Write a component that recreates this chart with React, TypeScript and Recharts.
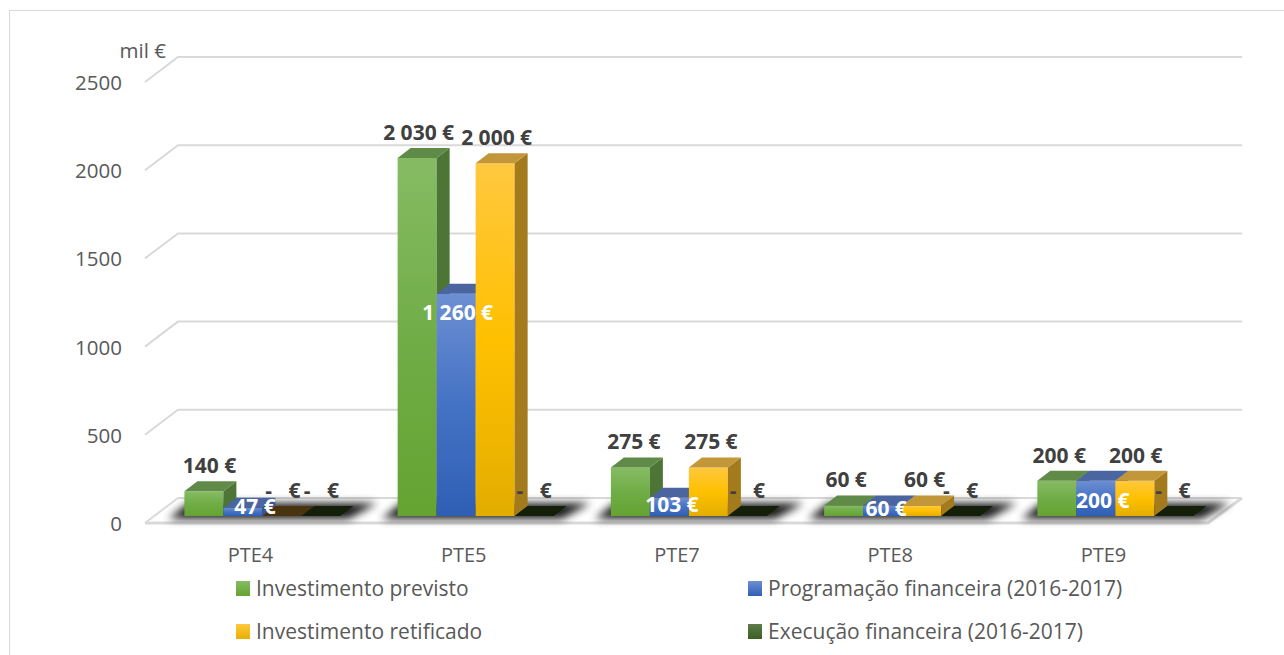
import React from "react";
import { ComposedChart, Bar, XAxis, YAxis, CartesianGrid, Legend, LabelList } from "recharts";

const categories = ["PTE4", "PTE5", "PTE7", "PTE8", "PTE9"];
const investimentoPrevisto = [140, 2030, 275, 60, 200];
const programacaoFinanceira = [47, 1260, 103, 60, 200];
const investimentoRetificado = [0, 2000, 275, 60, 200];
const execucaoFinanceira = [0, 0, 0, 0, 0];
const yTicks = [0, 500, 1000, 1500, 2000, 2500];

const data = categories.map((name, i) => ({
  name,
  previsto: investimentoPrevisto[i],
  programacao: programacaoFinanceira[i],
  retificado: investimentoRetificado[i],
  execucao: execucaoFinanceira[i],
}));

const FONT = "'Open Sans', sans-serif";
const GRID = "#d9d9d9";
const DEPTH_X = 13;
const DEPTH_Y = 10;

const skins: Record<string, any> = {
  previsto: { id: "gGreen", stops: ["#86bb63", "#70ad47", "#65a332"], top: "#5f8a48", side: "#4c7536", zero: "#2c3f1c" },
  programacao: { id: "gBlue", stops: ["#6d8fd3", "#4472c4", "#2f5fb5"], top: "#4a659f", side: "#39578f", zero: "#1a2a4a" },
  retificado: { id: "gYellow", stops: ["#ffc83f", "#ffc000", "#e3ad00"], top: "#c1973a", side: "#a37a1c", zero: "#4a3410" },
  execucao: { id: "gDark", stops: ["#5e7d4a", "#436a2a", "#3a5f22"], top: "#36552a", side: "#2b4518", zero: "#141f0a" },
};

function makeShape(key: string, withShadow: boolean) {
  const skin = skins[key];
  return (p: any) => {
    const { x, y, width, height } = p;
    const h = Math.max(height, 0);
    const r = x + width;
    const b = y + h;
    return (
      <g>
        {withShadow && (
          <polygon
            points={`${x - 16},${b + 3} ${x + width * 4 + 8},${b + 3} ${x + width * 4 + DEPTH_X + 24},${b - DEPTH_Y - 3} ${x + DEPTH_X - 9},${b - DEPTH_Y - 3}`}
            fill="#000"
            opacity={0.9}
            filter="url(#floorBlur)"
          />
        )}
        {h > 0 && <rect x={x} y={y} width={width} height={h} fill={`url(#${skin.id})`} />}
        {h > 0 && (
          <polygon points={`${r},${y} ${r + DEPTH_X},${y - DEPTH_Y} ${r + DEPTH_X},${b - DEPTH_Y} ${r},${b}`} fill={skin.side} />
        )}
        <polygon
          points={`${x},${y} ${r},${y} ${r + DEPTH_X},${y - DEPTH_Y} ${x + DEPTH_X},${y - DEPTH_Y}`}
          fill={h > 0 ? skin.top : skin.zero}
        />
      </g>
    );
  };
}

const euro = (v: number) =>
  v === 0 ? "-   €" : `${String(v).replace(/\B(?=(\d{3})+$)/g, " ")} €`;

const previstoNudge = [5.5, 1.5, 3.5, 2.5, 2.5];
const programacaoNudgeX = [12, 1.5, 2.5, 3.5, 7];
const programacaoNudgeY = [-2, 18, 6, 3, 19];
const retificadoNudge = [1, 1.5, 2.5, 3, 1];
const execucaoNudge = [0.5, 0, 0, 0, -1];

function outerLabel(nudge: number[]) {
  return (p: any) => (
    <text
      x={p.x + p.width / 2 + nudge[p.index]}
      y={p.y - 26}
      textAnchor="middle"
      dominantBaseline="central"
      fontFamily={FONT}
      fontSize={21}
      fontWeight={700}
      fill="#404040"
      style={{ whiteSpace: "pre" }}
    >
      {euro(Number(p.value))}
    </text>
  );
}

function innerLabel(p: any) {
  return (
    <text
      x={p.x + p.width / 2 + programacaoNudgeX[p.index]}
      y={p.y + programacaoNudgeY[p.index]}
      textAnchor="middle"
      dominantBaseline="central"
      fontFamily={FONT}
      fontSize={21}
      fontWeight={700}
      fill="#ffffff"
    >
      {euro(Number(p.value))}
    </text>
  );
}

const none = () => null;

function gridLine(p: any) {
  const y = p.y1;
  const isFloor = Math.abs(y - 516) < 1;
  return (
    <g key={p.key}>
      <polyline points={`145,${y + 7} 178,${y - 18} 1242,${y - 18}`} fill="none" stroke={GRID} strokeWidth={2} />
      {isFloor && (
        <polyline points={`145,${y + 7} 1208,${y + 7} 1242,${y - 18}`} fill="none" stroke={GRID} strokeWidth={3} />
      )}
    </g>
  );
}

function yTick(p: any) {
  return (
    <text x={122} y={p.y + 7} textAnchor="end" dominantBaseline="central" fontFamily={FONT} fontSize={20.5} fill="#595959">
      {p.payload.value}
    </text>
  );
}

function xTick(p: any) {
  return (
    <text x={p.x - 11.5} y={554} textAnchor="middle" dominantBaseline="central" fontFamily={FONT} fontSize={20} fill="#595959">
      {p.payload.value}
    </text>
  );
}

const legendGradients: Record<string, string> = {
  "Investimento previsto": "linear-gradient(#86bb63,#65a332)",
  "Programação financeira (2016-2017)": "linear-gradient(#6d8fd3,#2f5fb5)",
  "Investimento retificado": "linear-gradient(#ffc83f,#e8b000)",
  "Execução financeira (2016-2017)": "linear-gradient(#5e7d4a,#3a5f22)",
};
const legendLeft = [236, 748];
const legendTop = [588, 631];

function legendContent(p: any) {
  const items = (p.payload || []).filter((e: any) => legendGradients[e.value]);
  return (
    <div style={{ position: "relative", width: 1284, height: 80 }}>
      {items.map((e: any, i: number) => (
        <div
          key={e.value}
          style={{
            position: "absolute",
            left: legendLeft[i % 2],
            top: legendTop[Math.floor(i / 2)] - 570 - 15,
            height: 30,
            display: "flex",
            alignItems: "center",
            whiteSpace: "nowrap",
            fontFamily: FONT,
            fontSize: 21,
            color: "#595959",
          }}
        >
          <span style={{ width: 14, height: 15, marginRight: 6, background: legendGradients[e.value] }} />
          {e.value}
        </div>
      ))}
    </div>
  );
}

export default function App() {
  return (
    <div style={{ position: "absolute", left: 0, top: 0, width: 1284, height: 655, overflow: "hidden", background: "#fff" }}>
      <div style={{ position: "absolute", left: 9, top: 10, width: 1300, height: 660, border: `1.5px solid ${GRID}` }} />
      <ComposedChart
        width={1284}
        height={655}
        data={data}
        margin={{ top: 75, right: 62.4, bottom: 0, left: 0 }}
        barGap={0}
        style={{ position: "absolute", left: 0, top: 0 }}
      >
        <defs>
          <filter id="floorBlur" x="-20%" y="-150%" width="140%" height="400%">
            <feGaussianBlur stdDeviation="4.5" />
          </filter>
          {Object.values(skins).map((s: any) => (
            <linearGradient key={s.id} id={s.id} x1="0" y1="0" x2="0" y2="1">
              <stop offset="0" stopColor={s.stops[0]} />
              <stop offset="0.5" stopColor={s.stops[1]} />
              <stop offset="1" stopColor={s.stops[2]} />
            </linearGradient>
          ))}
        </defs>
        <CartesianGrid vertical={false} horizontal={gridLine} />
        <XAxis dataKey="name" height={139} axisLine={false} tickLine={false} tick={xTick} interval={0} />
        <XAxis dataKey="name" xAxisId="labels" hide />
        <YAxis width={155.4} domain={[0, 2500]} ticks={yTicks} axisLine={false} tickLine={false} tick={yTick} interval={0} />

        <Bar dataKey="previsto" name="Investimento previsto" fill="#70ad47" barSize={39} shape={makeShape("previsto", true)} isAnimationActive={false} />
        <Bar dataKey="programacao" name="Programação financeira (2016-2017)" fill="#4472c4" barSize={39} shape={makeShape("programacao", false)} isAnimationActive={false} />
        <Bar dataKey="retificado" name="Investimento retificado" fill="#ffc000" barSize={39} shape={makeShape("retificado", false)} isAnimationActive={false} />
        <Bar dataKey="execucao" name="Execução financeira (2016-2017)" fill="#436a2a" barSize={39} shape={makeShape("execucao", false)} isAnimationActive={false} />

        <Bar xAxisId="labels" dataKey="previsto" barSize={39} shape={none} legendType="none" isAnimationActive={false}>
          <LabelList dataKey="previsto" content={outerLabel(previstoNudge)} />
        </Bar>
        <Bar xAxisId="labels" dataKey="programacao" barSize={39} shape={none} legendType="none" isAnimationActive={false}>
          <LabelList dataKey="programacao" content={innerLabel} />
        </Bar>
        <Bar xAxisId="labels" dataKey="retificado" barSize={39} shape={none} legendType="none" isAnimationActive={false}>
          <LabelList dataKey="retificado" content={outerLabel(retificadoNudge)} />
        </Bar>
        <Bar xAxisId="labels" dataKey="execucao" barSize={39} shape={none} legendType="none" isAnimationActive={false}>
          <LabelList dataKey="execucao" content={outerLabel(execucaoNudge)} />
        </Bar>

        <text x={166} y={50} textAnchor="end" dominantBaseline="central" fontFamily={FONT} fontSize={20.5} fill="#595959">
          mil €
        </text>

        <Legend
          layout="horizontal"
          verticalAlign="middle"
          align="center"
          itemSorter={null}
          wrapperStyle={{ left: 0, top: 570, width: 1284 }}
          content={legendContent}
        />
      </ComposedChart>
    </div>
  );
}
